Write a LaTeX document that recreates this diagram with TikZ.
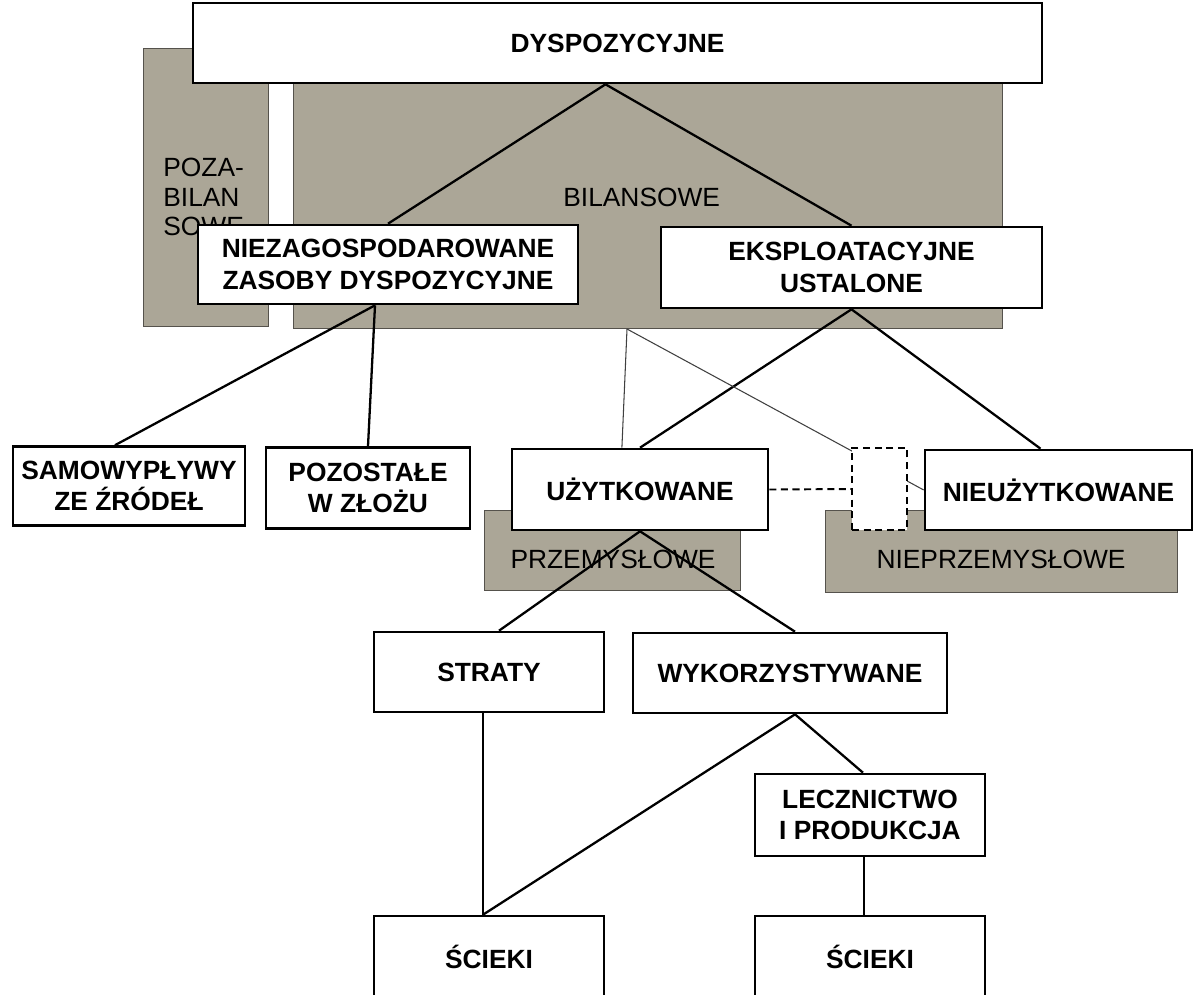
\documentclass[tikz,border=0pt]{standalone}
\usepackage{fontspec}
\setmainfont{Liberation Sans}
\usetikzlibrary{calc}
\definecolor{zoneF}{HTML}{ABA697}
\definecolor{zoneB}{HTML}{55524C}
\tikzset{
 box/.style={draw, line width=1.5pt, fill=white, align=center, inner sep=0pt,
             font=\fontsize{15}{18}\selectfont\bfseries},
 dbox/.style={draw, line width=1.1pt, dash pattern=on 4pt off 2.6pt, fill=white, inner sep=0pt},
 zone/.style={fill=zoneF, draw=zoneB, line width=0.5pt},
 zlab/.style={font=\fontsize{15}{17}\selectfont, inner sep=0pt, align=left},
 lin/.style={line width=1.3pt},
 hair/.style={line width=0.6pt, draw=black!75},
}
\begin{document}
\begin{tikzpicture}[x=0.02cm, y=-0.02cm]
\clip (0,0) rectangle (1196,994);
\fill[white] (0,0) rectangle (1196,994);
% shaded zones
\path[zone] (143,48) rectangle (268,326);
\path[zone] (293,60) rectangle (1002,328);
\path[zone] (484,510) rectangle (740,590);
\path[zone] (825,510) rectangle (1177,592);
\node[zlab, anchor=west] (poza) at (163,197) {POZA-\\BILAN\\SOWE};
\node[zlab, anchor=west] (bil) at (563,197) {BILANSOWE};
\node[zlab] (przem) at (613,559) {PRZEMYSŁOWE};
\node[zlab] (nprzem) at (1001,559) {NIEPRZEMYSŁOWE};
% boxes
\node[box, minimum width=16.98cm, minimum height=1.60cm] (dysp) at (617.5,43) {DYSPOZYCYJNE};
\node[box, minimum width=7.60cm, minimum height=1.58cm] (niez) at (388,264.5)
 {NIEZAGOSPODAROWANE\\ZASOBY DYSPOZYCYJNE};
\node[box, minimum width=7.62cm, minimum height=1.62cm] (eksp) at (851.5,267.5)
 {EKSPLOATACYJNE\\USTALONE};
\node[box, minimum width=4.64cm, minimum height=1.58cm] (samo) at (129,486)
 {SAMOWYPŁYWY\\ZE ŹRÓDEŁ};
\node[box, minimum width=4.08cm, minimum height=1.62cm] (pozo) at (368,488)
 {POZOSTAŁE\\W ZŁOŻU};
\node[box, minimum width=5.12cm, minimum height=1.62cm] (uzyt) at (640,489.5) {UŻYTKOWANE};
\node[box, minimum width=5.34cm, minimum height=1.60cm] (nieuz) at (1058.5,490) {NIEUŻYTKOWANE};
\node[box, minimum width=4.60cm, minimum height=1.60cm] (strat) at (489,672) {STRATY};
\node[box, minimum width=6.28cm, minimum height=1.60cm] (wyk) at (790,673) {WYKORZYSTYWANE};
\node[box, minimum width=4.60cm, minimum height=1.64cm] (lecz) at (870,815)
 {LECZNICTWO\\I PRODUKCJA};
\node[box, minimum width=4.60cm, minimum height=1.64cm] (sciek1) at (489,957) {ŚCIEKI};
\node[box, minimum width=4.60cm, minimum height=1.64cm] (sciek2) at (870,957) {ŚCIEKI};
% connectors
\coordinate (top) at ($(dysp.south)+(-12,0)$);
\coordinate (nz) at ($(niez.south)+(-13,0)$);
\draw[lin] (top) -- (niez.north);
\draw[lin] (top) -- (eksp.north);
\draw[lin] (nz) -- ($(samo.north)+(-14,0)$);
\draw[lin] (nz) -- (pozo.north);
\draw[lin] (eksp.south) -- (uzyt.north);
\draw[lin] (eksp.south) -- ($(nieuz.north)+(-18,0)$);
\coordinate (tap) at (627,329);
\draw[hair] (tap) -- ($(uzyt.north west)!0.43!(uzyt.north east)$);
\draw[hair] (tap) -- (nieuz.west);
\draw[lin] (uzyt.south) -- ($(strat.north)+(10,0)$);
\draw[lin] (uzyt.south) -- ($(wyk.north)+(5,0)$);
\draw[lin] ($(strat.south)+(-6,0)$) -- ($(sciek1.north)+(-6,0)$);
\draw[lin] ($(wyk.south)+(5,0)$) -- ($(sciek1.north)+(-6,0)$);
\draw[lin] ($(wyk.south)+(5,0)$) -- ($(lecz.north)+(-7,0)$);
\draw[lin] ($(lecz.south)+(-6,0)$) -- ($(sciek2.north)+(-6,0)$);
% dashed gap
\node[dbox, minimum width=1.10cm, minimum height=1.64cm] (gap) at (879.5,489) {};
\draw[lin, line width=1.1pt, dash pattern=on 4pt off 2.6pt] (uzyt.east) -- (gap.west);
\end{tikzpicture}
\end{document}
